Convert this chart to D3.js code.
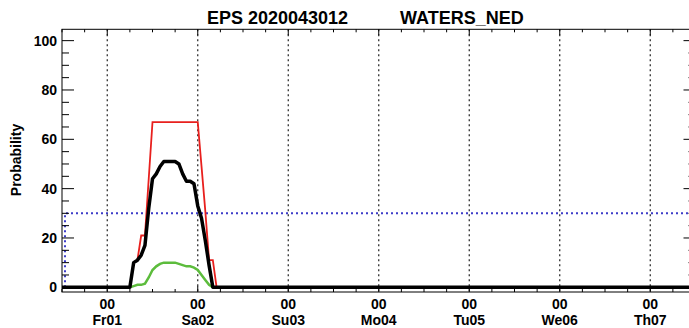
<!DOCTYPE html>
<html>
<head>
<meta charset="utf-8">
<script src="https://cdn.jsdelivr.net/npm/d3@7"></script>
<style>
  body { margin: 0; background: #fff; }
  text { font-family: "Liberation Sans", Arial, sans-serif; font-weight: bold; fill: #000; }
</style>
</head>
<body>
<div id="chart"></div>
<script>
let width = 689,
    height = 328;

// hours after Fr01 00Z
let hours = [-12, 6, 7, 8, 9, 10, 11, 12, 13, 14, 15, 16, 17, 18, 19, 20, 21, 22, 23, 24, 25, 26, 27, 28, 29, 156];
let redVals   = [0, 0, 10, 11, 21, 21, 44, 67, 67, 67, 67, 67, 67, 67, 67, 67, 67, 67, 67, 67, 49, 31, 11, 11, 0, 0];
let blackVals = [0, 0, 10, 11, 13, 17, 32, 44, 46, 49, 51, 51, 51, 51, 50, 46, 43, 43, 42, 33, 28, 19, 9, 0, 0, 0];
let greenVals = [0, 0, 0.5, 1, 1, 1.5, 4, 7, 8.5, 9.5, 10, 10, 10, 10, 9.5, 9, 8.5, 8.5, 8, 7, 5, 3, 1, 0, 0, 0];
let threshold = 30;
let dayLabels = ["Fr01", "Sa02", "Su03", "Mo04", "Tu05", "We06", "Th07"];
let yTicks = [0, 20, 40, 60, 80, 100];

let t0 = Date.UTC(2020, 4, 1, 0);
let toDate = h => new Date(t0 + h * 3600e3);

let x = d3.scaleUtc()
    .domain([toDate(-12), toDate(156)])
    .range([62, 695.5]);
let y = d3.scaleLinear()
    .domain([-1.9, 104.6])
    .range([292, 29.3]);

let svg = d3.select("#chart").append("svg")
    .attr("width", width)
    .attr("height", height);

let plotTop = y.range()[1], plotBottom = y.range()[0];
let plotLeft = x.range()[0], plotRight = x.range()[1];

// day grid lines
let days = dayLabels.map((d, i) => toDate(24 * i));
svg.selectAll(".grid")
    .data(days)
    .enter().append("line")
    .attr("x1", d => x(d)).attr("x2", d => x(d))
    .attr("y1", plotTop).attr("y2", plotBottom)
    .attr("stroke", "#222")
    .attr("stroke-width", 1.2)
    .attr("stroke-dasharray", "2,3");

// threshold
svg.append("path")
    .attr("d", d3.line()([[plotLeft + 3, y(0)], [plotLeft + 3, y(threshold)], [plotRight, y(threshold)]]))
    .attr("fill", "none")
    .attr("stroke", "#3c3cc8")
    .attr("stroke-width", 2)
    .attr("stroke-dasharray", "2,3");

// frame
svg.append("rect")
    .attr("x", plotLeft).attr("y", plotTop)
    .attr("width", plotRight - plotLeft).attr("height", plotBottom - plotTop)
    .attr("fill", "none")
    .attr("stroke", "#000")
    .attr("stroke-width", 1);

// x ticks every 6h, top and bottom
let sixH = d3.range(-12, 157, 6).map(toDate);
let xTickSel = svg.append("g");
sixH.forEach(d => {
  let major = d.getUTCHours() === 0;
  let len = major ? 6 : 3;
  xTickSel.append("line")
    .attr("x1", x(d)).attr("x2", x(d))
    .attr("y1", plotTop).attr("y2", plotTop + len)
    .attr("stroke", "#000");
  xTickSel.append("line")
    .attr("x1", x(d)).attr("x2", x(d))
    .attr("y1", plotBottom).attr("y2", plotBottom - len)
    .attr("stroke", "#000");
});

// y ticks left and right
let minorY = d3.range(0, 101, 5);
minorY.forEach(v => {
  let len = v % 20 === 0 ? 12 : 7;
  svg.append("line")
    .attr("x1", plotLeft).attr("x2", plotLeft + len)
    .attr("y1", y(v)).attr("y2", y(v))
    .attr("stroke", "#000");
  svg.append("line")
    .attr("x1", plotRight).attr("x2", plotRight - len)
    .attr("y1", y(v)).attr("y2", y(v))
    .attr("stroke", "#000");
});

svg.selectAll(".ylab")
    .data(yTicks)
    .enter().append("text")
    .attr("x", 57)
    .attr("y", d => y(d))
    .attr("dy", "0.36em")
    .attr("text-anchor", "end")
    .style("font-size", "14px")
    .text(d => d);

svg.append("text")
    .attr("transform", "translate(21,160) rotate(-90)")
    .attr("text-anchor", "middle")
    .style("font-size", "14px")
    .text("Probability");

// x labels
days.forEach((d, i) => {
  svg.append("text")
    .attr("x", x(d)).attr("y", 309)
    .attr("text-anchor", "middle")
    .style("font-size", "14px")
    .text("00");
  svg.append("text")
    .attr("x", x(d)).attr("y", 325)
    .attr("text-anchor", "middle")
    .style("font-size", "14px")
    .text(dayLabels[i]);
});

// title
svg.append("text")
    .attr("x", 207).attr("y", 24)
    .style("font-size", "18px")
    .text("EPS 2020043012");
svg.append("text")
    .attr("x", 400).attr("y", 24)
    .style("font-size", "18px")
    .text("WATERS_NED");

// series
let line = d3.line()
    .x((d, i) => x(toDate(hours[i])))
    .y(d => y(d));

svg.append("path")
    .attr("d", line(redVals))
    .attr("fill", "none")
    .attr("stroke", "#e8201e")
    .attr("stroke-width", 1.8);

svg.append("path")
    .attr("d", line(greenVals))
    .attr("fill", "none")
    .attr("stroke", "#5cbc3c")
    .attr("stroke-width", 2.5);

svg.append("path")
    .attr("d", line(blackVals))
    .attr("fill", "none")
    .attr("stroke", "#000")
    .attr("stroke-width", 3.5)
    .attr("stroke-linejoin", "round");
</script>
</body>
</html>
